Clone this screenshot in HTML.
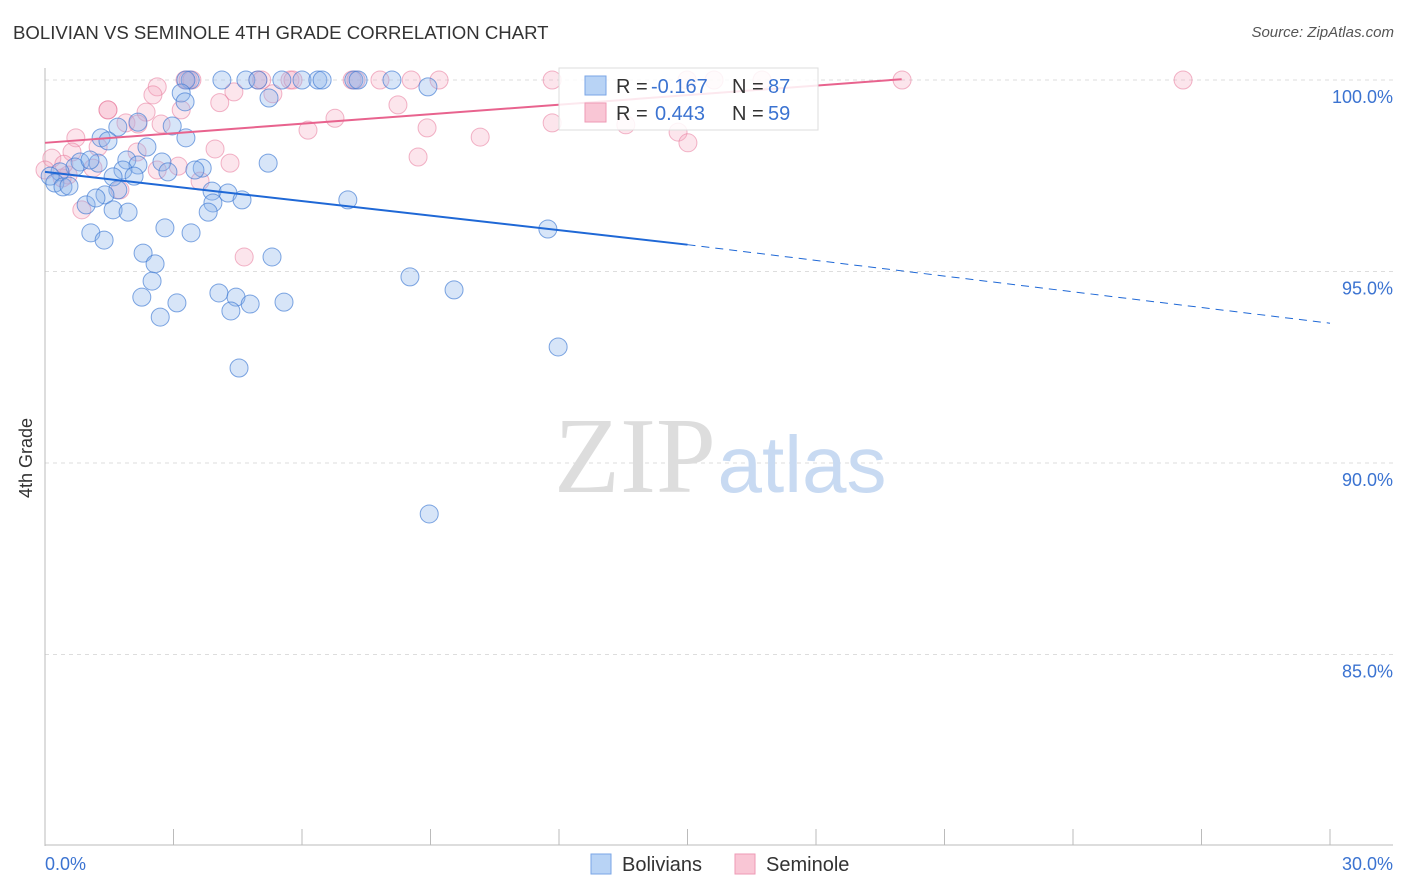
<!DOCTYPE html>
<html><head><meta charset="utf-8">
<style>
body{margin:0;background:#fff;font-family:"Liberation Sans",sans-serif;}
#wrap{position:relative;width:1406px;height:892px;overflow:hidden;}
.t{position:absolute;white-space:nowrap;}
</style></head>
<body><div id="wrap">
<div class="t" style="left:13px;top:22px;font-size:18.6px;color:#333;">BOLIVIAN VS SEMINOLE 4TH GRADE CORRELATION CHART</div>
<div class="t" style="right:12px;top:24px;font-size:15px;color:#555;font-style:italic;">Source: ZipAtlas.com</div>
<div class="t" style="left:6px;top:455px;font-size:18px;color:#333;transform:rotate(-90deg);transform-origin:left top;"><span style="position:relative;left:-43px;top:10px">4th Grade</span></div>
<svg id="svg" width="1406" height="892" style="position:absolute;left:0;top:0"></svg>
</div>
<script>
const yTicks=[100,95,90,85];
const yTickLabels=["100.0%","95.0%","90.0%","85.0%"];
const xLabels=["0.0%","30.0%"];
const blueX=[4.13,4.69,4.97,5.53,6.0,6.37,6.47,7.21,7.31,8.10,3.39,3.29,8.94,3.18,5.23,3.27,2.97,2.17,1.70,1.31,1.47,3.29,2.38,5.21,1.91,2.73,1.24,0.82,0.70,1.05,2.17,3.67,3.50,2.87,1.82,1.59,2.08,0.35,0.12,0.23,0.42,0.56,3.9,4.27,1.70,1.40,0.96,1.19,3.92,4.6,3.81,7.07,1.59,1.94,11.74,2.80,1.07,1.38,3.41,2.29,5.30,2.57,2.50,8.52,2.26,4.06,4.46,4.79,4.34,5.58,3.08,9.55,2.69,11.98,4.53,8.97];
const blueY=[100,100,100,100,100,100,100,100,100,100,100,100,99.82,99.66,99.53,99.43,98.80,98.90,98.77,98.49,98.41,98.49,98.25,97.83,97.91,97.86,97.83,97.86,97.73,97.91,97.78,97.70,97.65,97.60,97.65,97.47,97.49,97.60,97.49,97.31,97.21,97.23,97.10,97.05,97.13,97.0,96.74,96.92,96.79,96.87,96.55,96.87,96.61,96.55,96.11,96.14,96.01,95.82,96.01,95.48,95.38,95.20,94.75,94.86,94.33,94.44,94.33,94.15,93.97,94.20,94.18,94.52,93.81,93.03,92.48,88.67];
const pinkX=[3.27,3.34,3.43,4.97,5.06,5.72,5.79,7.17,7.26,7.82,8.55,9.20,11.84,14.99,15.62,16.74,20.01,26.57,2.62,2.52,4.41,4.08,1.47,1.47,3.18,8.24,2.36,5.32,2.71,1.89,2.17,6.14,6.77,8.92,11.84,13.56,14.78,10.16,15.01,0.72,0.63,1.24,2.15,3.97,8.71,4.32,3.11,0.16,0.0,0.54,1.12,2.62,0.40,1.75,3.62,0.86,4.65,0.44];
const pinkY=[100,100,100,100,100,100,100,100,100,100,100,100,100,100,100,100,100,100,99.82,99.61,99.69,99.41,99.22,99.22,99.22,99.35,99.16,99.64,98.85,98.88,98.85,98.69,99.0,98.75,98.88,98.83,98.64,98.51,98.36,98.49,98.12,98.25,98.12,98.20,97.99,97.83,97.75,97.96,97.65,97.52,97.70,97.65,97.44,97.13,97.36,96.61,95.38,97.80];
const blueLine=[[0,97.60],[15.0,95.70],[30.0,93.65]];
const pinkLine=[[0,98.36],[20.0,100.02]];
const sx=v=>45+v*1285/30, sy=v=>80+(100-v)*38.3;
const svg=document.getElementById('svg');const NS="http://www.w3.org/2000/svg";
function mk(tag,at,name){const e=document.createElementNS(NS,tag);for(const k in at)e.setAttribute(k,at[k]);


svg.appendChild(e);return e;}
yTicks.forEach((v,i)=>{mk('line',{x1:45,x2:1393,y1:sy(v),y2:sy(v),stroke:'#ddd','stroke-dasharray':'4,4'},'gridline');
const t=mk('text',{x:1393,y:sy(v)+23,'text-anchor':'end','font-size':18,fill:'#3b73d1','font-family':'Liberation Sans'},'y-tick-label');t.textContent=yTickLabels[i];});
mk('line',{x1:45,x2:45,y1:68,y2:846,stroke:'#bbb'},'y-axis-line');
mk('line',{x1:45,x2:1393,y1:845,y2:845,stroke:'#bbb'},'x-axis-line');
for(let i=0;i<=10;i++)mk('line',{x1:sx(i*3),x2:sx(i*3),y1:829,y2:845,stroke:'#bbb'},'x-tick');
let t=mk('text',{x:45,y:870,'font-size':18,fill:'#3b73d1','font-family':'Liberation Sans'},'x-tick-label');t.textContent=xLabels[0];
t=mk('text',{x:1393,y:870,'text-anchor':'end','font-size':18,fill:'#3b73d1','font-family':'Liberation Sans'},'x-tick-label');t.textContent=xLabels[1];
t=mk('text',{x:635,y:492,'text-anchor':'middle','font-size':108,fill:'#ddd','font-family':'Liberation Serif'},'watermark-zip');t.textContent='ZIP';
t=mk('text',{x:802,y:492,'text-anchor':'middle','font-size':80,fill:'#c8daf2','font-family':'Liberation Sans'},'watermark-atlas');t.textContent='atlas';
pinkX.forEach((x,i)=>mk('circle',{cx:sx(x),cy:sy(pinkY[i]),r:9,fill:'rgba(246,168,192,0.3)',stroke:'rgba(232,120,155,0.55)','stroke-width':1},'seminole-point'));
blueX.forEach((x,i)=>mk('circle',{cx:sx(x),cy:sy(blueY[i]),r:(x===0?14:9),fill:'rgba(140,180,235,0.35)',stroke:'rgba(60,120,210,0.65)','stroke-width':1},'bolivian-point'));
mk('line',{x1:sx(blueLine[0][0]),y1:sy(blueLine[0][1]),x2:sx(blueLine[1][0]),y2:sy(blueLine[1][1]),stroke:'#1f68d6','stroke-width':2},'bolivian-trend');
mk('line',{x1:sx(blueLine[1][0]),y1:sy(blueLine[1][1]),x2:sx(blueLine[2][0]),y2:sy(blueLine[2][1]),stroke:'#1f68d6','stroke-width':1,'stroke-dasharray':'8,6'},'bolivian-trend-extension');
mk('line',{x1:sx(pinkLine[0][0]),y1:sy(pinkLine[0][1]),x2:sx(pinkLine[1][0]),y2:sy(pinkLine[1][1]),stroke:'#e8638e','stroke-width':2},'seminole-trend');
mk('rect',{x:559,y:68,width:259,height:62,fill:'rgba(255,255,255,0.85)',stroke:'#ddd'},'legend-box');
mk('rect',{x:585,y:76,width:21,height:19,fill:'#b8d3f5',stroke:'#7aa6e6'},'legend-swatch-bolivians');
mk('rect',{x:585,y:103,width:21,height:19,fill:'#f9c6d5',stroke:'#ee9ab5'},'legend-swatch-seminole');
function lt(x,y,s,c,n){const e=mk('text',{x:x,y:y,'font-size':20,fill:c,'font-family':'Liberation Sans'},n);e.textContent=s;}
lt(616,93,'R =','#333','legend-r-label');lt(651,93,'-0.167','#3b73d1','legend-r-bolivians');lt(732,93,'N =','#333','legend-n-label');lt(768,93,'87','#3b73d1','legend-n-bolivians');
lt(616,120,'R =','#333','legend-r-label');lt(655,120,'0.443','#3b73d1','legend-r-seminole');lt(732,120,'N =','#333','legend-n-label');lt(768,120,'59','#3b73d1','legend-n-seminole');
mk('rect',{x:591,y:854,width:20,height:20,fill:'#b8d3f5',stroke:'#7aa6e6'},'bottom-legend-swatch-bolivians');
lt(622,871,'Bolivians','#333','bottom-legend-bolivians');
mk('rect',{x:735,y:854,width:20,height:20,fill:'#f9c6d5',stroke:'#ee9ab5'},'bottom-legend-swatch-seminole');
lt(766,871,'Seminole','#333','bottom-legend-seminole');
</script>
</body></html>
